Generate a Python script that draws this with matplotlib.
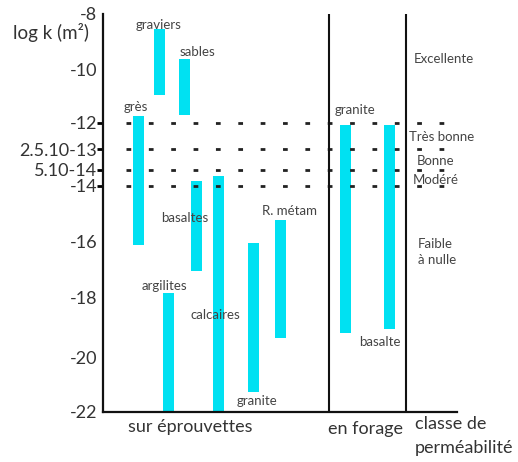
import numpy as np
import matplotlib
matplotlib.use("Agg")
import matplotlib.pyplot as plt

plt.rcParams['font.family'] = ['Lato', 'DejaVu Sans']
plt.rcParams['lines.scale_dashes'] = False

# ---- data (log10 of permeability k in m^2) ----
rocks = ['graviers', 'sables', 'grès', 'basaltes', 'calcaires', 'argilites',
         'granite', 'R. métam', 'granite', 'basalte']
k_top = [-8.55, -9.64, -11.74, -13.78, -13.56, -17.84, -16.04, -15.2, -12.05, -12.05]
k_bottom = [-10.97, -11.71, -16.1, -17.05, -22.0, -22.0, -21.27, -19.37, -19.2, -19.07]
groups = ['sur éprouvettes', 'en forage']

tick_values = [-8, -10, -12, -12.6, -13.3, -14, -16, -18, -20, -22]
tick_labels = ['-8', '-10', '-12', '2.5.10-13', '5.10-14', '-14', '-16', '-18', '-20', '-22']
class_limits = [-12, -12.6, -13.3, -14]
classes = ['Excellente', 'Très bonne', 'Bonne', 'Modéré', 'Faible\nà nulle']
class_y = [-9.64, -12.32, -12.99, -13.74, -16.36]

# ---- hand-drawn (non-uniform) vertical scale of the original diagram ----
KNOT_V = np.array([-26, -22, -20, -18, -16, -14, -13.3, -12.6, -12, -10, -8, -4])
KNOT_P = np.array([522, 412, 357, 297, 242, 186, 170, 149, 122.7, 69, 14, -96])

def fwd(v):
    return np.interp(v, KNOT_V, -KNOT_P)

def inv(u):
    return np.interp(u, -KNOT_P[::-1], KNOT_V[::-1])

W, H = 518, 462
fig = plt.figure(figsize=(W / 100, H / 100), dpi=100)
x0, x1, ytop, ybot = 103, 456.7, 14, 412
ax = fig.add_axes([x0 / W, 1 - ybot / H, (x1 - x0) / W, (ybot - ytop) / H])
ax.set_yscale('function', functions=(fwd, inv))
ax.set_ylim(-22, -8)
ax.set_xlim(x0, x1)

# bar horizontal placements
bar_x = [159, 184.7, 138.8, 196.5, 218.8, 168, 253.5, 280.5, 345, 389]
bar_color = '#00E1F2'
heights = [t - b for t, b in zip(k_top, k_bottom)]
ax.bar(bar_x, heights, bottom=k_bottom, width=11, color=bar_color, zorder=2)

# dotted class limits
ax.hlines(class_limits, 126, 452, colors='#222222', linewidth=2.0,
          linestyles=[(0, (3.4, 12.7))], zorder=3)

# separators
for xs in (329, 406):
    ax.axvline(xs, color='#111111', lw=1.5, zorder=3)

# spines
for s in ('top', 'right'):
    ax.spines[s].set_visible(False)
for s in ('left', 'bottom'):
    ax.spines[s].set_linewidth(1.6)
    ax.spines[s].set_color('#111111')

ax.set_xticks([])
ax.set_yticks(tick_values)
ax.set_yticklabels(tick_labels)
ax.yaxis.set_minor_locator(matplotlib.ticker.NullLocator())
ax.tick_params(axis='y', length=0, pad=4.0, labelsize=13, labelcolor='#333333')
for t, v in zip(ax.yaxis.get_major_ticks(), tick_values):
    if v in class_limits:
        t.tick1line.set_markersize(4)
        t.tick1line.set_markeredgewidth(2.0)
        t.tick1line.set_color('#222222')

# rock labels
lab_x = [158.7, 197.5, 136, 184.5, 215.7, 164, 257, 289, 355, 380]
lab_y = [-8.4, -9.38, -11.42, -15.16, -18.6, -17.6, -21.6, -14.88, -11.52, -19.49]
for name, lx, ly in zip(rocks, lab_x, lab_y):
    ax.text(lx, ly, name, fontsize=9.5, color='#444444', ha='center', va='center', zorder=4)

# class labels
for i, (c, cy) in enumerate(zip(classes, class_y)):
    if '\n' in c:
        ax.text(418, cy, c, fontsize=9.5, color='#444444', ha='left', va='center',
                linespacing=1.4, clip_on=False)
    else:
        cx = [443.7, 442, 436, 436][i]
        ax.text(cx, cy, c, fontsize=9.5, color='#444444', ha='center', va='center',
                clip_on=False)

# outer texts (figure pixel coords)
def ft(x, y, s, **kw):
    fig.text(x / W, 1 - y / H, s, **kw)

ft(51, 33, 'log k (m²)', fontsize=13.5, color='#333333', ha='center', va='center')
ft(190, 426.7, groups[0], fontsize=13, color='#333333', ha='center', va='center')
ft(366, 429, groups[1], fontsize=13, color='#333333', ha='center', va='center')
ft(415, 424, 'classe de', fontsize=13, color='#333333', ha='left', va='center')
ft(415, 448, 'perméabilité', fontsize=13, color='#333333', ha='left', va='center')

fig.savefig('out.png', dpi=100, facecolor='white')
